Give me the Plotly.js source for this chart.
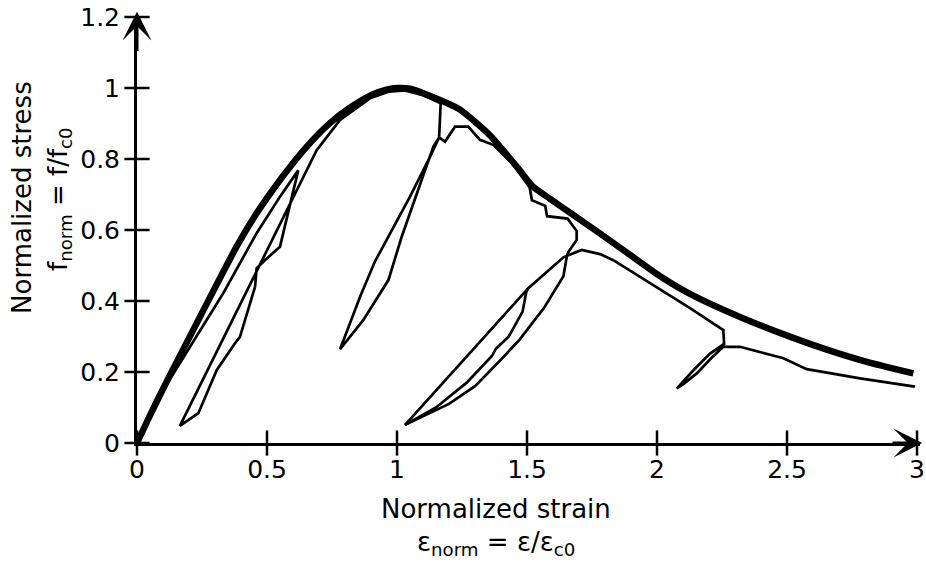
<!DOCTYPE html>
<html>
<head>
<meta charset="utf-8">
<script src="https://cdn.plot.ly/plotly-3.0.1.min.js"></script>
<style>html,body{margin:0;padding:0;background:#fff;}#chart{width:926px;height:563px;}</style>
</head>
<body>
<div id="chart"></div>
<script>
// Envelope (monotonic backbone curve)
const envX = [0, 0.05, 0.117, 0.249, 0.383, 0.46, 0.55, 0.653, 0.742, 0.82, 0.9, 0.96, 1.0, 1.05, 1.165, 1.24, 1.30, 1.36, 1.41, 1.47, 1.523, 1.588, 1.677, 1.765, 1.883, 2.012, 2.14, 2.319, 2.524, 2.653, 2.8, 2.986];
const envY = [0, 0.078, 0.177, 0.365, 0.553, 0.647, 0.741, 0.835, 0.901, 0.945, 0.98, 0.995, 1.0, 0.998, 0.966, 0.94, 0.905, 0.865, 0.823, 0.77, 0.722, 0.688, 0.643, 0.598, 0.537, 0.47, 0.415, 0.355, 0.296, 0.263, 0.23, 0.196];

// Cyclic loading path (thin line)
const cycX = [0, 0.06, 0.12, 0.204, 0.332, 0.46, 0.55, 0.62,
  0.608, 0.576, 0.55, 0.492, 0.46, 0.454, 0.396, 0.377, 0.307, 0.236, 0.165,
  0.691, 0.742, 0.781, 0.896, 0.97, 1.03, 1.1, 1.168,
  1.162, 1.127, 1.05, 0.915, 0.858, 0.781,
  0.87, 0.967, 1.018, 1.14, 1.162, 1.185, 1.223, 1.274, 1.319, 1.37, 1.45, 1.51,
  1.519, 1.570, 1.577, 1.656, 1.691, 1.691, 1.659, 1.653, 1.64, 1.565, 1.47, 1.40, 1.30, 1.2, 1.1, 1.031,
  1.505, 1.64, 1.71, 1.781, 1.832, 2.012, 2.127, 2.255, 2.258,
  2.204, 2.14, 2.088, 2.076, 2.101, 2.153, 2.21, 2.255,
  2.319, 2.486, 2.576, 2.781, 2.992];
const cycY = [0, 0.088, 0.172, 0.271, 0.422, 0.591, 0.694, 0.768,
  0.732, 0.637, 0.553, 0.515, 0.492, 0.44, 0.299, 0.281, 0.206, 0.084, 0.048,
  0.825, 0.872, 0.91, 0.971, 0.99, 0.993, 0.98, 0.957,
  0.861, 0.806, 0.694, 0.511, 0.412, 0.264,
  0.346, 0.459, 0.581, 0.835, 0.861, 0.849, 0.891, 0.891, 0.854, 0.84, 0.782, 0.72,
  0.684, 0.668, 0.639, 0.632, 0.597, 0.572, 0.538, 0.525, 0.47, 0.38, 0.29, 0.235, 0.16, 0.11, 0.075, 0.051,
  0.436, 0.523, 0.544, 0.532, 0.515, 0.434, 0.38, 0.318, 0.279,
  0.252, 0.205, 0.163, 0.154, 0.166, 0.196, 0.24, 0.271,
  0.271, 0.239, 0.208, 0.182, 0.159];

// Inner reloading branch of the third cycle
const innerX = [1.031, 1.15, 1.268, 1.365, 1.38, 1.43, 1.483, 1.497, 1.505];
const innerY = [0.051, 0.1, 0.17, 0.245, 0.265, 0.3, 0.37, 0.425, 0.436];

const xTicks = [0, 0.5, 1, 1.5, 2, 2.5, 3];
const xTickText = ["0", "0.5", "1", "1.5", "2", "2.5", "3"];
const yTicks = [0, 0.2, 0.4, 0.6, 0.8, 1, 1.2];
const yTickText = ["0", "0.2", "0.4", "0.6", "0.8", "1", "1.2"];

const FONT = "DejaVu Sans, Verdana, sans-serif";
const xRange = [0, 3.0115];
const yRange = [0, 1.2];

const tickMark = (sym) => ({symbol: sym, size: 18, color: "#000", line: {color: "#000", width: 2.5}});

const traces = [
  {x: envX, y: envY, mode: "lines", line: {color: "#000", width: 6.5, shape: "spline", smoothing: 0.6}, hoverinfo: "skip"},
  {x: cycX, y: cycY, mode: "lines", line: {color: "#000", width: 2.7}, hoverinfo: "skip"},
  {x: innerX, y: innerY, mode: "lines", line: {color: "#000", width: 2.7}, hoverinfo: "skip"},
  // crossing tick marks on the axes
  {x: xTicks, y: xTicks.map(() => 0), mode: "markers", marker: tickMark("line-ns"), cliponaxis: false, hoverinfo: "skip"},
  {x: yTicks.map(() => 0), y: yTicks, mode: "markers", marker: tickMark("line-ew"), cliponaxis: false, hoverinfo: "skip"}
];

const axisCommon = {
  showgrid: false, zeroline: false, showline: true, linecolor: "#000", linewidth: 3,
  ticks: "outside", ticklen: 9, tickwidth: 2.5, tickcolor: "#000",
  tickfont: {family: FONT, size: 25, color: "#000"}, fixedrange: true
};

const layout = {
  width: 926, height: 563,
  margin: {l: 137, r: 6, t: 17, b: 120},
  paper_bgcolor: "#fff", plot_bgcolor: "#fff",
  showlegend: false,
  font: {family: FONT, color: "#000"},
  xaxis: Object.assign({}, axisCommon, {range: xRange, tickvals: xTicks, ticktext: xTickText, ticklabelstandoff: -7}),
  yaxis: Object.assign({}, axisCommon, {range: yRange, tickvals: yTicks, ticktext: yTickText}),
  annotations: [
    {x: 0, y: 1.215, ax: 0, ay: 1.1, xref: "x", yref: "y", axref: "x", ayref: "y", text: "",
     showarrow: true, arrowhead: 3, arrowsize: 1.6, arrowwidth: 3, arrowcolor: "#000"},
    {x: 3.02, y: 0, ax: 2.9, ay: 0, xref: "x", yref: "y", axref: "x", ayref: "y", text: "",
     showarrow: true, arrowhead: 3, arrowsize: 1.6, arrowwidth: 3, arrowcolor: "#000"},
    {text: "Normalized stress", xref: "paper", yref: "paper", x: -0.1469, y: 0.5775, textangle: -90,
     xanchor: "center", yanchor: "middle", showarrow: false, font: {family: FONT, size: 26, color: "#000"}},
    {text: "f<sub>norm</sub> = f/f<sub>c0</sub>", xref: "paper", yref: "paper", x: -0.099, y: 0.574, textangle: -90,
     xanchor: "center", yanchor: "middle", showarrow: false, font: {family: FONT, size: 26, color: "#000"}},
    {text: "Normalized strain", xref: "paper", yref: "paper", x: 0.4585, y: -0.155,
     xanchor: "center", yanchor: "middle", showarrow: false, font: {family: FONT, size: 26, color: "#000"}},
    {text: "ε<sub>norm</sub> = ε/ε<sub>c0</sub>", xref: "paper", yref: "paper", x: 0.4585, y: -0.237,
     xanchor: "center", yanchor: "middle", showarrow: false, font: {family: FONT, size: 26, color: "#000"}}
  ]
};

Plotly.newPlot("chart", traces, layout, {displayModeBar: false, staticPlot: true});
</script>
</body>
</html>
